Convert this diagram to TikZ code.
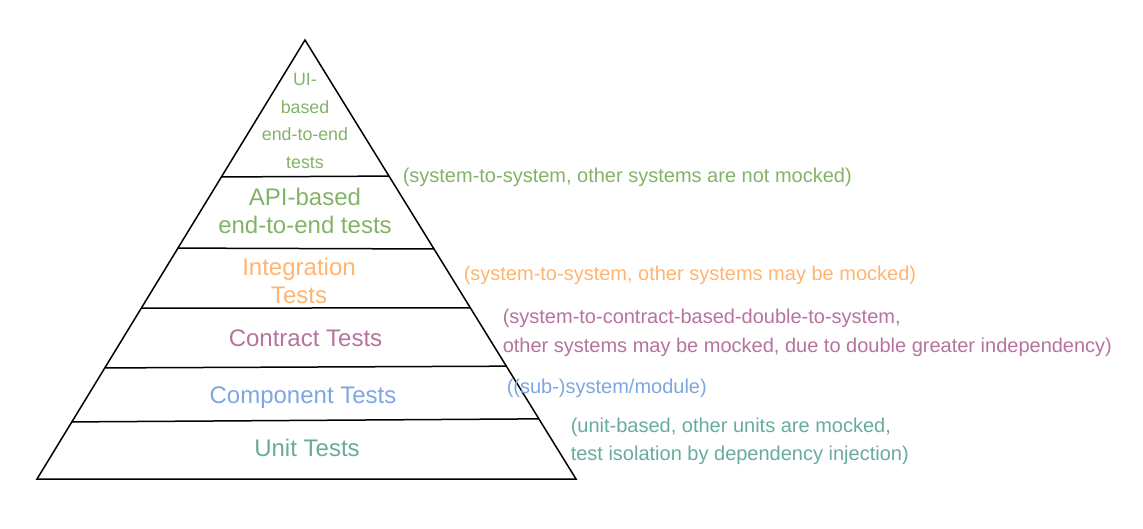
\documentclass[tikz,border=0pt]{standalone}
\usepackage{fontspec}
\setmainfont{Liberation Sans}
\usetikzlibrary{calc,positioning}
\definecolor{uigreen}{HTML}{82B366}
\definecolor{integorange}{HTML}{FFB570}
\definecolor{contractpurple}{HTML}{B5739D}
\definecolor{compblue}{HTML}{7EA6E0}
\definecolor{unitteal}{HTML}{67AB9F}
\tikzset{
  layer/.style={font=\fontsize{24}{27.5}\selectfont, align=center, inner sep=0pt},
  note/.style={font=\fontsize{20}{28.5}\selectfont, align=left, anchor=west, inner sep=0pt},
}

\begin{document}
\begin{tikzpicture}[x=1pt, y=-1pt, line width=1.5pt]
    \useasboundingbox (0,0) rectangle (1143,529);

    % pyramid outline
    \coordinate (apex) at (305,40);
    \coordinate (bl) at (37,479);
    \coordinate (br) at (576,479);
    \draw (apex) -- (bl) -- (br) -- cycle;

    % layer borders
    \foreach \tl/\tr in {0.312/0.310, 0.474/0.476, 0.611/0.610, 0.747/0.743, 0.870/0.863}
    {
    \draw ($(apex)!\tl!(bl)$) -- ($(apex)!\tr!(br)$);
    }

    % layer labels
    \node[layer, font=\fontsize{17.8}{27.7}\selectfont, text=uigreen] (ui) at (305,121) {UI-\\based\\end-to-end\\tests};
    \node[layer, text=uigreen] (api) at (305,211) {API-based\\end-to-end tests};
    \node[layer, text=integorange, font=\fontsize{24}{28}\selectfont] (integ) at (299,280.5) {Integration\\Tests};
    \node[layer, text=contractpurple] (contract) at (305.5,338.5) {Contract Tests};
    \node[layer, text=compblue] (comp) at (303,397.5) {Component Tests};
    \node[layer, text=unitteal] (unit) at (307,448) {Unit Tests};

    % notes
    \node[note, text=uigreen] (uinote) at (402,177.5) {(system-to-system, other systems are not mocked)};
    \node[note, text=integorange] (integnote) at (463,275.5) {(system-to-system, other systems may be mocked)};
    \node[note, text=contractpurple] (contractnote) at (502,333) {(system-to-contract-based-double-to-system,\\other systems may be mocked, due to double greater independency)};
    \node[note, text=compblue] (compnote) at (506,388) {((sub-)system/module)};
    \node[note, text=unitteal] (unitnote) at (570,441.5) {(unit-based, other units are mocked,\\test isolation by dependency injection)};
\end{tikzpicture}
\end{document}
